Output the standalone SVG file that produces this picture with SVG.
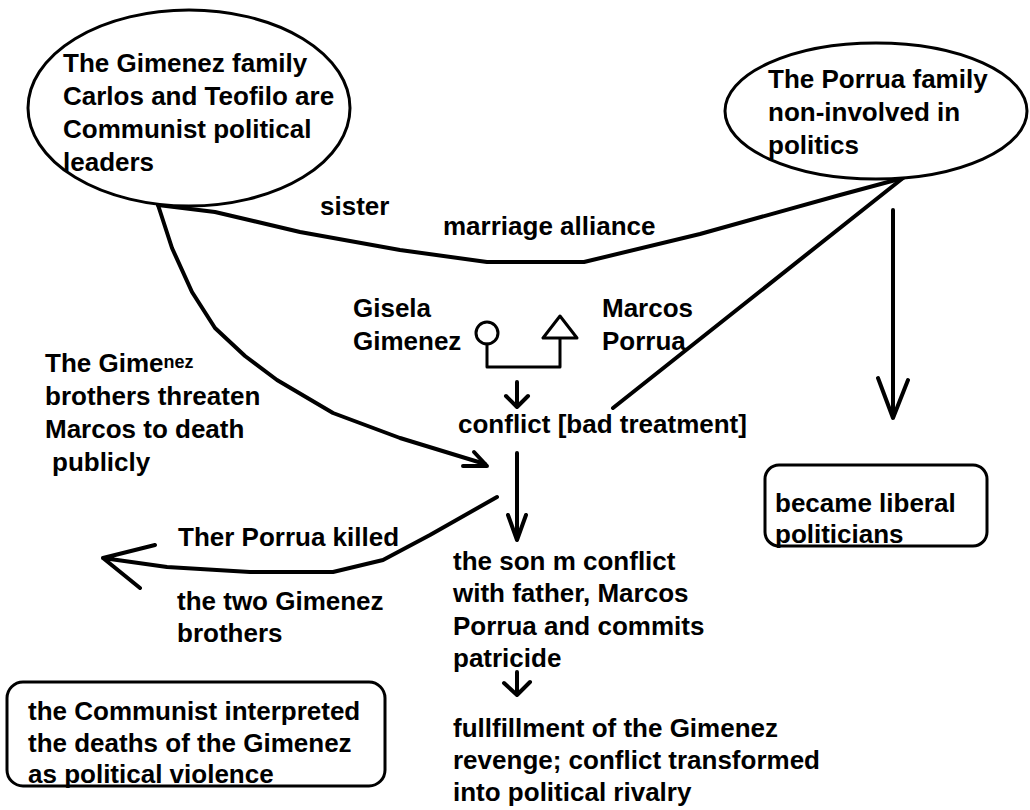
<svg xmlns="http://www.w3.org/2000/svg" width="1030" height="810" viewBox="0 0 1030 810">
<defs>
<style>
text{font-family:"Liberation Sans",Arial,sans-serif;font-weight:bold;font-size:26px;fill:#000}
.sm{font-size:18px}
.shape{fill:#fff;stroke:#000;stroke-width:3}
.ln{fill:none;stroke:#000;stroke-width:4;stroke-linejoin:round;stroke-linecap:round}
.thin{fill:none;stroke:#000;stroke-width:3;stroke-linejoin:round;stroke-linecap:round}
</style>
</defs>
<rect width="1030" height="810" fill="#fff"/>
<g id="connectors">
<path class="ln" d="M158,205 L215,212 L300,232 L400,250 L487,262 L584,262 L700,234 L840,195 L903,178"/>
<path class="ln" d="M158,205 L172,248 L192,292 L215,328 L245,356 L277,380 L333,413 L400,438 L485,464"/>
<path class="ln" d="M463,466 L487,466 L474,452"/>
<path class="ln" d="M903,178 L613,408"/>
<path class="ln" d="M893,210 L893,418 M878,378 L893,418 L908,380"/>
<path class="ln" d="M517,382 L517,407 M506,396 L517,407 L528,396"/>
<path class="ln" d="M517,453 L517,540 M508,515 L517,540 L526,515"/>
<path class="ln" d="M497,497 L430,535 L383,560 L333,572 L250,572 L167,567 L103,558 M155,545 L103,558 L140,588"/>
<path class="ln" d="M517,672 L517,695 M504,683 L517,695 L530,682"/>
</g>
<g id="gimenez-family">
<ellipse class="shape" cx="189" cy="108" rx="161" ry="98"/>
<text x="63" y="72">The Gimenez family</text>
<text x="63" y="105">Carlos and Teofilo are</text>
<text x="63" y="138">Communist political</text>
<text x="63" y="171">leaders</text>
</g>
<g id="porrua-family">
<ellipse class="shape" cx="876" cy="111" rx="151" ry="68"/>
<text x="768" y="88">The Porrua family</text>
<text x="768" y="121">non-involved in</text>
<text x="768" y="154">politics</text>
</g>
<g id="edge-labels">
<text x="320" y="215">sister</text>
<text x="443" y="235">marriage alliance</text>
<text x="45" y="372">The Gime<tspan class="sm" dy="-4">nez</tspan></text>
<text x="45" y="405">brothers threaten</text>
<text x="45" y="438">Marcos to death</text>
<text x="52" y="471">publicly</text>
<text x="178" y="546">Ther Porrua killed</text>
<text x="177" y="610">the two Gimenez</text>
<text x="177" y="642">brothers</text>
</g>
<g id="couple">
<text x="353" y="317">Gisela</text>
<text x="353" y="350">Gimenez</text>
<circle class="thin" cx="487" cy="333" r="11"/>
<path class="thin" d="M487,344 L487,367 L560,367 L560,338 M560,316 L543,338 L577,338 Z"/>
<text x="602" y="317">Marcos</text>
<text x="602" y="350">Porrua</text>
</g>
<g id="conflict">
<text x="458" y="433">conflict [bad treatment]</text>
</g>
<g id="son">
<text x="453" y="570">the son m conflict</text>
<text x="453" y="602">with father, Marcos</text>
<text x="453" y="635">Porrua and commits</text>
<text x="453" y="667">patricide</text>
</g>
<g id="fulfillment">
<text x="453" y="737">fullfillment of the Gimenez</text>
<text x="453" y="769">revenge; conflict transformed</text>
<text x="453" y="801">into political rivalry</text>
</g>
<g id="liberal">
<rect class="shape" x="765" y="465" width="222" height="81" rx="14"/>
<text x="775" y="512">became liberal</text>
<text x="775" y="543">politicians</text>
</g>
<g id="communist">
<rect class="shape" x="7" y="682" width="378" height="104" rx="16"/>
<text x="28" y="720">the Communist interpreted</text>
<text x="28" y="752">the deaths of the Gimenez</text>
<text x="28" y="783">as political violence</text>
</g>
</svg>
